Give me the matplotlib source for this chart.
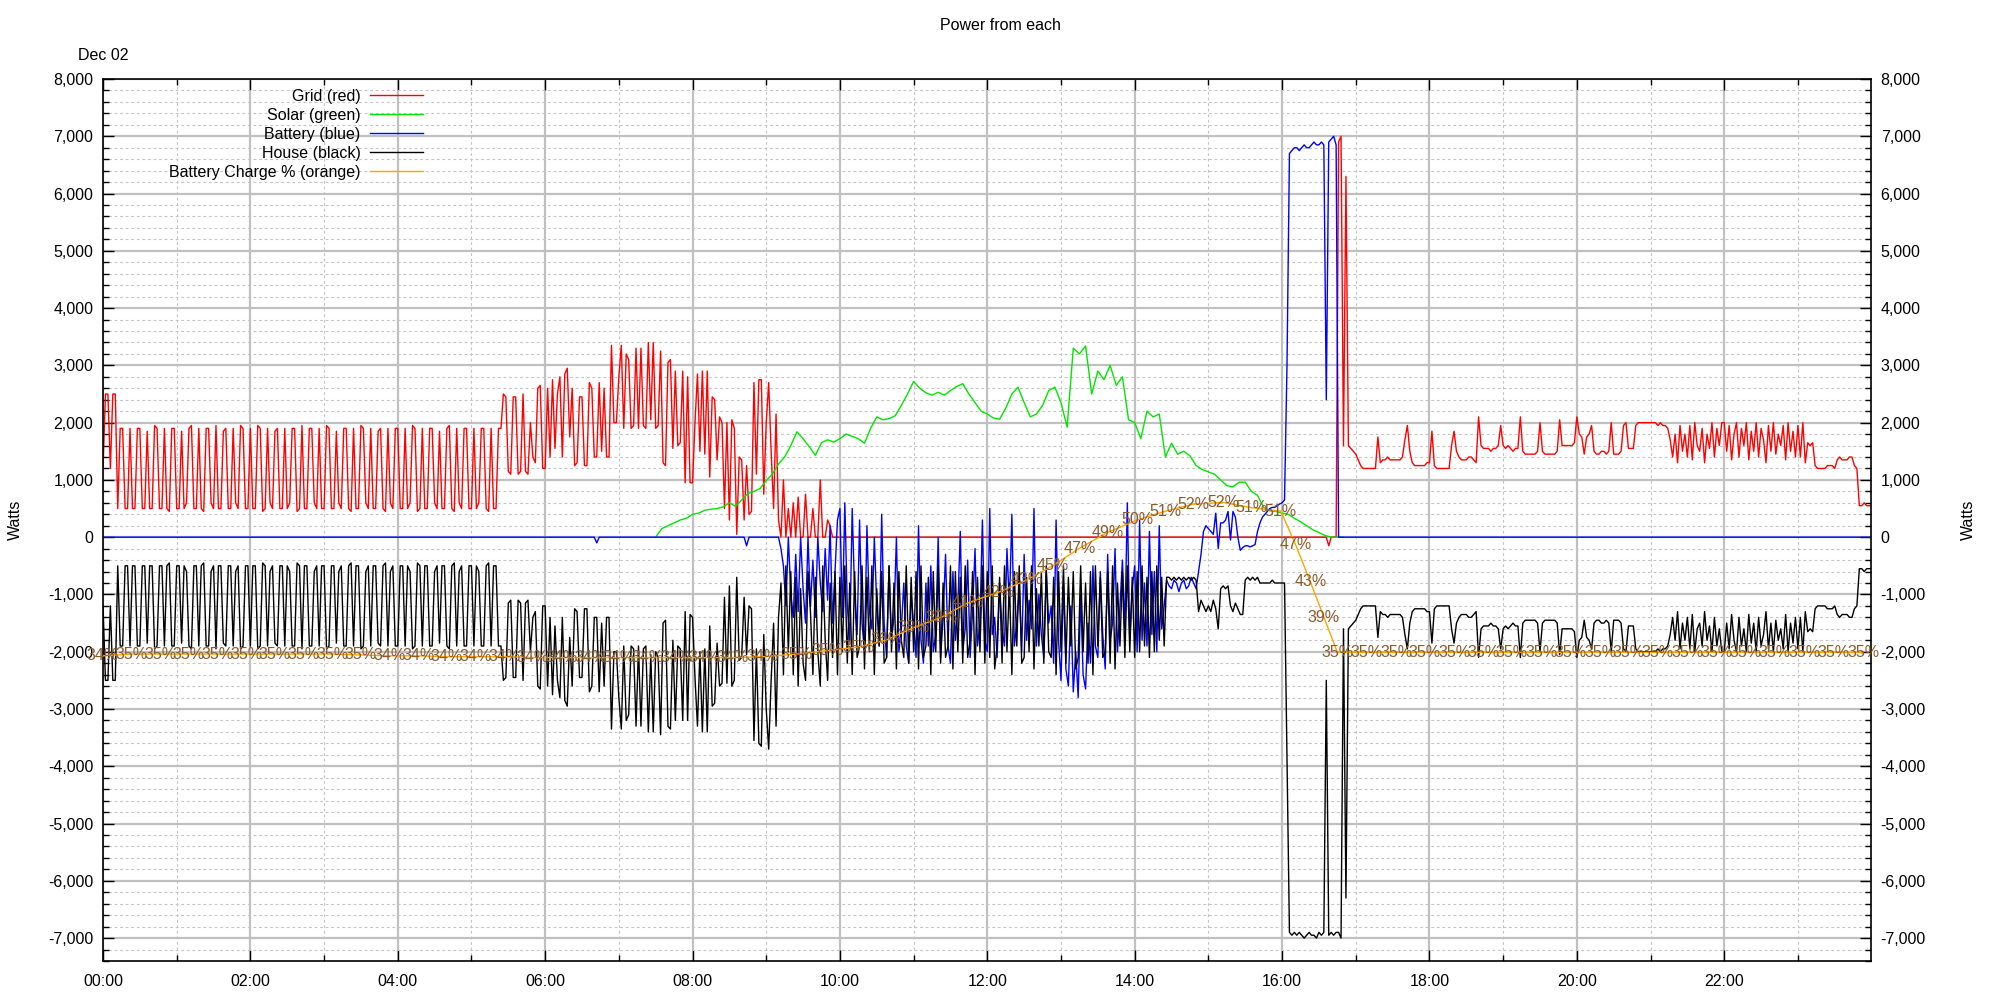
#!/usr/bin/env python3
"""
Power from each source over one day (grid, solar, battery, house)
plus the battery state of charge, drawn gnuplot-style.

Saves the chart as out.png.
"""

import matplotlib
matplotlib.use("Agg")
import matplotlib.pyplot as plt
import matplotlib.dates as mdates
import matplotlib.ticker as mticker
import pandas as pd

plt.rcParams['font.family'] = ['Liberation Sans', 'DejaVu Sans']

DAY = "2023-12-02"

# Grid / battery / house power, hundreds of watts, 2-minute samples
# from 00:00 to 24:00 (one row per hour, 30 samples each, plus 24:00)
grid = [
    12, 25, 25, 12, 25, 25, 5, 19, 19, 5, 5, 19, 5, 5, 19, 19, 5, 5, 18.5, 5, 5, 19.5, 19, 5, 5, 19, 5, 4.5, 19, 19,
    5, 5, 18.5, 5, 6, 19, 19.5, 5, 5, 19, 5, 4.5, 19, 19, 6, 5, 19.5, 5, 5, 18.5, 19, 5, 5, 19, 6, 5, 19.5, 19, 5, 5,
    19, 5, 5, 19.5, 19, 4.5, 5, 19, 6, 5, 18.5, 19, 5, 5, 19, 5, 6, 19, 19, 4.5, 5, 19.5, 5, 5, 19, 19, 6, 5, 19, 5,
    5, 19.5, 19, 5, 5, 18.5, 6, 5, 19, 19, 5, 4.5, 19, 5, 5, 19.5, 19, 6, 5, 19, 5, 5, 18.5, 19, 5, 4.5, 19, 6, 5, 19,
    19, 5, 5, 19, 5, 6, 19.5, 19, 4.5, 5, 19, 5, 5, 19, 19, 6, 5, 18.5, 5, 5, 19, 19.5, 5, 4.5, 19, 6, 5, 19, 19, 5,
    5, 19, 5, 6, 19, 19, 5, 4.5, 19, 5, 5, 19, 19, 25, 24.5, 11.5, 11, 24.5, 24.5, 11, 11.5, 25, 11.5, 11, 20, 14, 13, 26, 26.5, 12,
    12, 26, 14, 27.5, 15.5, 25, 28, 14, 28.5, 29.5, 17.5, 26, 12.5, 13, 24.5, 24.5, 12.5, 12.5, 27, 26, 14, 14, 27, 15, 26, 14, 14, 33.5, 20, 20,
    28, 33.5, 19, 32, 31, 19, 19.5, 33, 19, 33, 19.5, 19, 34, 20.5, 34, 19, 19.5, 32.5, 13, 12.5, 30.5, 31, 15.5, 29, 16, 16.5, 29, 9.5, 28, 9.5,
    9.5, 20, 28.5, 15, 29, 14.5, 29, 10.5, 24.5, 24, 13.5, 21, 20, 5, 20, 3, 20.5, 19, 0.5, 14, 13.5, 3, 12.5, 4, 4.5, 27, 11, 27.5, 27.5, 7.5,
    20, 27, 15, 5, 21.5, 3, 0, 10, 0, 5, 0, 6, 0, 7, 0, 0, 7.5, 0, 0, 5, 0, 0, 10, 0, 0, 3, 2, 0, 0, 0,
    0, 0, 0, 0, 0, 0, 0, 0, 0, 0, 0, 0, 0, 0, 0, 0, 0, 0, 0, 0, 0, 0, 0, 0, 0, 0, 0, 0, 0, 0,
    0, 0, 0, 0, 0, 0, 0, 0, 0, 0, 0, 0, 0, 0, 0, 0, 0, 0, 0, 0, 0, 0, 0, 0, 0, 0, 0, 0, 0, 0,
    0, 0, 0, 0, 0, 0, 0, 0, 0, 0, 0, 0, 0, 0, 0, 0, 0, 0, 0, 0, 0, 0, 0, 0, 0, 0, 0, 0, 0, 0,
    0, 0, 0, 0, 0, 0, 0, 0, 0, 0, 0, 0, 0, 0, 0, 0, 0, 0, 0, 0, 0, 0, 0, 0, 0, 0, 0, 0, 0, 0,
    0, 0, 0, 0, 0, 0, 0, 0, 0, 0, 0, 0, 0, 0, 0, 0, 0, 0, 0, 0, 0, 0, 0, 0, 0, 0, 0, 0, 0, 0,
    0, 0, 0, 0, 0, 0, 0, 0, 0, 0, 0, 0, 0, 0, 0, 0, 0, 0, 0, 0, 0, 0, 0, 0, 0, 0, 0, 0, 0, 0,
    0, 0, 0, 0, 0, 0, 0, 0, 0, 0, 0, 0, 0, 0, 0, 0, 0, 0, 0, -1.5, 0, 0, 0, 69, 70, 16, 63, 16, 15.5, 15,
    14.5, 13.5, 12.5, 12, 12, 12, 12, 12, 12, 17.5, 13, 13.5, 13.5, 14, 13.5, 13.5, 13.5, 13.5, 13.5, 14, 17, 19.5, 15, 13, 12.5, 12.5, 12.5, 12.5, 12.5, 13,
    13, 18.5, 12.5, 12, 12, 12, 12, 12, 12, 16, 18.5, 15, 14, 13.5, 13.5, 13.5, 14, 14, 13.5, 13, 21, 16, 15.5, 15.5, 15.5, 15, 15.5, 15.5, 16, 19.5,
    16, 15.5, 16, 15.5, 15, 15.5, 15.5, 21, 15, 14.5, 14.5, 14.5, 14.5, 14.5, 15, 20, 15, 14.5, 14.5, 14.5, 14.5, 14.5, 15, 20.5, 16, 16, 16, 16, 16, 16.5,
    21, 18, 17.5, 14.5, 17.5, 18, 19.5, 15, 14.5, 14.5, 15, 15, 14.5, 15, 20, 14.5, 14.5, 14.5, 15, 19.5, 20, 15.5, 15.5, 15.5, 19.5, 20, 20, 20, 20, 20,
    20, 20, 20, 19.5, 20, 19.5, 19.5, 19, 17, 14, 18, 13, 19.5, 15, 18, 14, 19.5, 13.5, 20, 16, 15, 19, 13, 18, 15.5, 20, 14, 19, 16, 20,
    20, 15, 19.5, 13.5, 18, 20, 14, 19, 16, 20, 13.5, 18.5, 15, 20, 14, 19, 17, 13, 19.5, 15, 20, 14.5, 18, 16, 19.5, 13.5, 20, 15, 18.5, 14,
    19.5, 14, 20, 13, 16.5, 16, 16.5, 12.5, 12, 12, 12, 12, 12.5, 12.5, 12.5, 12, 13.5, 14, 13.5, 13.5, 13.5, 14, 14, 12.5, 12, 5.5, 5.5, 6, 5.5, 5.5,
    5.5,
]

battery = [
    0, 0, 0, 0, 0, 0, 0, 0, 0, 0, 0, 0, 0, 0, 0, 0, 0, 0, 0, 0, 0, 0, 0, 0, 0, 0, 0, 0, 0, 0,
    0, 0, 0, 0, 0, 0, 0, 0, 0, 0, 0, 0, 0, 0, 0, 0, 0, 0, 0, 0, 0, 0, 0, 0, 0, 0, 0, 0, 0, 0,
    0, 0, 0, 0, 0, 0, 0, 0, 0, 0, 0, 0, 0, 0, 0, 0, 0, 0, 0, 0, 0, 0, 0, 0, 0, 0, 0, 0, 0, 0,
    0, 0, 0, 0, 0, 0, 0, 0, 0, 0, 0, 0, 0, 0, 0, 0, 0, 0, 0, 0, 0, 0, 0, 0, 0, 0, 0, 0, 0, 0,
    0, 0, 0, 0, 0, 0, 0, 0, 0, 0, 0, 0, 0, 0, 0, 0, 0, 0, 0, 0, 0, 0, 0, 0, 0, 0, 0, 0, 0, 0,
    0, 0, 0, 0, 0, 0, 0, 0, 0, 0, 0, 0, 0, 0, 0, 0, 0, 0, 0, 0, 0, 0, 0, 0, 0, 0, 0, 0, 0, 0,
    0, 0, 0, 0, 0, 0, 0, 0, 0, 0, 0, 0, 0, 0, 0, 0, 0, 0, 0, 0, 0, -1, 0, 0, 0, 0, 0, 0, 0, 0,
    0, 0, 0, 0, 0, 0, 0, 0, 0, 0, 0, 0, 0, 0, 0, 0, 0, 0, 0, 0, 0, 0, 0, 0, 0, 0, 0, 0, 0, 0,
    0, 0, 0, 0, 0, 0, 0, 0, 0, 0, 0, 0, 0, 0, 0, 0, 0, 0, 0, 0, 0, 0, -1.5, 0, 0, 0, 0, 0, 0, 0,
    0, 0, 0, 0, 0, 0, -2, -5, -12, 0, -10, -14, -3, -13, 0, -9, -15, 0, -12, -4, -14, 0, -8, -13, -2, -11, 2, -15, -6, 3,
    5, -14, 6, -12, -18, 5, -10, -17, 3, -15, -20, 2, -13, -16, 0, -12, -19, 4, -15, -21, -5, -18, -14, 0, -20, -16, -8, -19, -22, -10,
    -15, -21, 2, -18, -22, -8, -19, -5, -20, -17, 0, -21, -14, -3, -19, -22, -6, -18, -12, 1, -20, -16, -4, -21, -13, -2, -19, -15, 3, -18,
    -20, 5, -17, -14, -21, -8, -16, -19, -2, -12, 4, -19, -15, -9, -20, -3, -18, -11, -16, 5, -19, -10, -17, -21, -6, -15, -12, -22, 3, -18,
    -25, -8, -23, -26, -12, -27, -20, -28, -10, -24, -26.5, -15, -22, -5, -19, -21, -6, -17, -23, -3, -18, -15, -2, -20, -12, -4, -16, 6, -18, -9,
    -5, -20, 3, -18, -8, -19, 1, -17, -6, -20, 2, -16, -12, -7.5, -8.5, -9, -7.5, -8, -9.5, -8, -7.5, -9, -8.5, -7, -8, -9, -6, -3, 1, 2,
    1.5, 1, 0.5, 4.2, -2, 2.5, 2.5, 3, 4.5, -0.5, 4.5, 3.5, 0, -2.3, -1.8, -1.5, -1.5, -1.7, -1.5, -1.3, 1, 2.5, 3.5, 4, 4.5, 5, 5.2, 5.2, 5.5, 5.8,
    6, 6.5, 30, 67, 67.5, 68, 68, 67.5, 68, 68.5, 68, 68, 68.5, 69, 68.5, 68.5, 69, 68.5, 24, 69, 69.5, 70, 68.5, 0, 0, 0, 0, 0, 0, 0,
    0, 0, 0, 0, 0, 0, 0, 0, 0, 0, 0, 0, 0, 0, 0, 0, 0, 0, 0, 0, 0, 0, 0, 0, 0, 0, 0, 0, 0, 0,
    0, 0, 0, 0, 0, 0, 0, 0, 0, 0, 0, 0, 0, 0, 0, 0, 0, 0, 0, 0, 0, 0, 0, 0, 0, 0, 0, 0, 0, 0,
    0, 0, 0, 0, 0, 0, 0, 0, 0, 0, 0, 0, 0, 0, 0, 0, 0, 0, 0, 0, 0, 0, 0, 0, 0, 0, 0, 0, 0, 0,
    0, 0, 0, 0, 0, 0, 0, 0, 0, 0, 0, 0, 0, 0, 0, 0, 0, 0, 0, 0, 0, 0, 0, 0, 0, 0, 0, 0, 0, 0,
    0, 0, 0, 0, 0, 0, 0, 0, 0, 0, 0, 0, 0, 0, 0, 0, 0, 0, 0, 0, 0, 0, 0, 0, 0, 0, 0, 0, 0, 0,
    0, 0, 0, 0, 0, 0, 0, 0, 0, 0, 0, 0, 0, 0, 0, 0, 0, 0, 0, 0, 0, 0, 0, 0, 0, 0, 0, 0, 0, 0,
    0, 0, 0, 0, 0, 0, 0, 0, 0, 0, 0, 0, 0, 0, 0, 0, 0, 0, 0, 0, 0, 0, 0, 0, 0, 0, 0, 0, 0, 0,
    0,
]

house = [
    -12, -25, -25, -12, -25, -25, -5, -19, -19, -5, -5, -19, -5, -5, -19, -19, -5, -5, -18.5, -5, -5, -19.5, -19, -5, -5, -19, -5, -4.5, -19, -19,
    -5, -5, -18.5, -5, -6, -19, -19.5, -5, -5, -19, -5, -4.5, -19, -19, -6, -5, -19.5, -5, -5, -18.5, -19, -5, -5, -19, -6, -5, -19.5, -19, -5, -5,
    -19, -5, -5, -19.5, -19, -4.5, -5, -19, -6, -5, -18.5, -19, -5, -5, -19, -5, -6, -19, -19, -4.5, -5, -19.5, -5, -5, -19, -19, -6, -5, -19, -5,
    -5, -19.5, -19, -5, -5, -18.5, -6, -5, -19, -19, -5, -4.5, -19, -5, -5, -19.5, -19, -6, -5, -19, -5, -5, -18.5, -19, -5, -4.5, -19, -6, -5, -19,
    -19, -5, -5, -19, -5, -6, -19.5, -19, -4.5, -5, -19, -5, -5, -19, -19, -6, -5, -18.5, -5, -5, -19, -19.5, -5, -4.5, -19, -6, -5, -19, -19, -5,
    -5, -19, -5, -6, -19, -19, -5, -4.5, -19, -5, -5, -19, -19, -25, -24.5, -11.5, -11, -24.5, -24.5, -11, -11.5, -25, -11.5, -11, -20, -14, -13, -26, -26.5, -12,
    -12, -26, -14, -27.5, -15.5, -25, -28, -14, -28.5, -29.5, -17.5, -26, -12.5, -13, -24.5, -24.5, -12.5, -12.5, -27, -26, -14, -14, -27, -15, -26, -14, -14, -33.5, -20, -20,
    -28, -33.5, -19, -32, -31, -19, -19.5, -33, -19, -33, -19.5, -19, -34, -20.5, -34, -20, -21, -34.5, -15, -14.5, -33, -33.5, -18, -32, -19, -19.5, -32, -13, -32, -13.5,
    -14, -24.5, -33, -20, -34, -19.5, -34, -15.5, -29.5, -29, -18.5, -26, -25.5, -10.5, -25.5, -8.5, -26, -25, -7, -21.5, -21, -10.5, -20.5, -12, -12.5, -35.5, -19.5, -36, -36.5, -17,
    -30, -37, -25, -15, -33, -14, -8, -24, -5, -20, -6, -24, -7, -26, -9, -22, -25, -6, -13, -24, -7, -20, -26, -5, -18, -25, -8, -21, -6, -24,
    -7, -20, -5, -22, -8, -24, -6, -21, -19, -5, -23, -7, -20, -5, -24, -9, -19, -6, -22, -21, -5, -20, -8, -23, -6, -18, -21, -5, -22, -7,
    -20, -6, -23, -5, -21, -19, -7, -24, -6, -20, -5, -22, -8, -21, -19, -5, -23, -6, -20, -7, -22, -5, -21, -18, -6, -24, -7, -20, -5, -22,
    -6, -21, -5, -23, -19, -7, -22, -5, -20, -8, -24, -6, -19, -5, -22, -21, -7, -20, -5, -23, -9, -19, -6, -22, -5, -20, -21, -7, -24, -6,
    -20, -5, -22, -7, -19, -6, -23, -21, -5, -20, -8, -22, -6, -24, -5, -19, -7, -21, -20, -6, -22, -5, -23, -8, -19, -6, -21, -5, -20, -7,
    -21, -6, -20, -5, -19, -7, -21, -6, -20, -5, -18, -7, -19, -7, -7, -7.5, -7, -7.5, -7, -7.5, -7, -7.5, -7, -7.5, -7, -7.5, -13, -11, -12, -13,
    -12, -13, -11, -12.5, -16, -9, -8.5, -9, -8.5, -12, -13, -11.5, -12.5, -13.5, -13.5, -7.5, -7, -7.5, -7, -7.5, -7, -8, -8, -8, -8, -8, -7.5, -8, -8, -8,
    -8, -8, -38, -69, -69.5, -69, -69.5, -69, -69.5, -70, -69.5, -69, -69.5, -69.5, -70, -69, -69.5, -69, -25, -69.5, -69, -69.5, -69, -69, -70, -16, -63, -16, -15.5, -15,
    -14.5, -13.5, -12.5, -12, -12, -12, -12, -12, -12, -17.5, -13, -13.5, -13.5, -14, -13.5, -13.5, -13.5, -13.5, -13.5, -14, -17, -19.5, -15, -13, -12.5, -12.5, -12.5, -12.5, -12.5, -13,
    -13, -18.5, -12.5, -12, -12, -12, -12, -12, -12, -16, -18.5, -15, -14, -13.5, -13.5, -13.5, -14, -14, -13.5, -13, -21, -16, -15.5, -15.5, -15.5, -15, -15.5, -15.5, -16, -19.5,
    -16, -15.5, -16, -15.5, -15, -15.5, -15.5, -21, -15, -14.5, -14.5, -14.5, -14.5, -14.5, -15, -20, -15, -14.5, -14.5, -14.5, -14.5, -14.5, -15, -20.5, -16, -16, -16, -16, -16, -16.5,
    -21, -18, -17.5, -14.5, -17.5, -18, -19.5, -15, -14.5, -14.5, -15, -15, -14.5, -15, -20, -14.5, -14.5, -14.5, -15, -19.5, -20, -15.5, -15.5, -15.5, -19.5, -20, -20, -20, -20, -20,
    -20, -20, -20, -19.5, -20, -19.5, -19.5, -19, -17, -14, -18, -13, -19.5, -15, -18, -14, -19.5, -13.5, -20, -16, -15, -19, -13, -18, -15.5, -20, -14, -19, -16, -20,
    -20, -15, -19.5, -13.5, -18, -20, -14, -19, -16, -20, -13.5, -18.5, -15, -20, -14, -19, -17, -13, -19.5, -15, -20, -14.5, -18, -16, -19.5, -13.5, -20, -15, -18.5, -14,
    -19.5, -14, -20, -13, -16.5, -16, -16.5, -12.5, -12, -12, -12, -12, -12.5, -12.5, -12.5, -12, -13.5, -14, -13.5, -13.5, -13.5, -14, -14, -12.5, -12, -5.5, -5.5, -6, -5.5, -5.5,
    -5.5,
]

# Solar, hundreds of watts, 5-minute samples from 07:30 to 16:50
solar = [
    0, 1.5, 2, 2.5, 3, 3.3,
    4, 4.2, 4.7, 4.9, 5, 5.3, 6, 5.4, 6.5, 7.6, 8, 8.5,
    9.9, 11, 12.8, 14, 16, 18.4, 17.2, 15.8, 14.3, 16.5, 17, 16.6,
    17.2, 18, 17.6, 17.2, 16.4, 19, 21, 20.5, 20.7, 21.2, 23, 25,
    27.2, 26, 25.2, 24.8, 25.3, 24.8, 25.6, 26.3, 26.8, 25, 23.5, 22,
    21.5, 20.8, 20.6, 22.5, 25, 26.2, 23.5, 21, 21.5, 23, 25.6, 26.2,
    23.5, 19.2, 33, 32, 33.4, 25, 29, 27.5, 30, 26.5, 28, 20.5,
    20, 17.2, 22, 21, 21.5, 14, 16.4, 14.5, 15, 14.2, 12.5, 11.8,
    11.4, 11, 10, 9, 8.8, 9.6, 9.6, 8, 7.3, 5.2, 4.6, 4.5,
    4.2, 4, 3.3, 2.7, 2, 1.3, 0.8, 0.3, 0, 0, 0,
]

# Battery state of charge (percent) and the labels printed at each reading
charge_times = [
    "00:00", "00:23", "00:47", "01:10", "01:33", "01:57", "02:20", "02:43",
    "03:07", "03:30", "03:53", "04:17", "04:40", "05:03", "05:27", "05:50",
    "06:13", "06:37", "07:00", "07:23", "07:47", "08:10", "08:33", "08:57",
    "09:25", "09:50", "10:15", "10:38", "11:00", "11:23", "11:44", "12:09",
    "12:32", "12:53", "13:15", "13:38", "14:02", "14:25", "14:48", "15:12",
    "15:35", "15:59", "16:11", "16:23", "16:34", "16:45", "17:09", "17:33",
    "17:56", "18:20", "18:44", "19:07", "19:31", "19:55", "20:19", "20:42",
    "21:06", "21:30", "21:54", "22:17", "22:41", "23:05", "23:29", "23:53",
]
charge_pct = [
    34.6, 34.8, 34.8, 34.8, 34.8, 34.8, 34.8, 34.8,
    34.8, 34.7, 34.6, 34.6, 34.5, 34.5, 34.5, 34.4,
    34.4, 34.4, 34.4, 34.4, 34.4, 34.4, 34.4, 34.5,
    34.8, 35.2, 35.6, 36.4, 37.8, 39.0, 40.6, 41.8,
    43.2, 44.8, 46.8, 48.6, 50.0, 51.0, 51.8, 52.0,
    51.4, 51.0, 47.2, 43.0, 39.0, 35.0, 35.0, 35.0,
    35.0, 35.0, 35.0, 35.0, 35.0, 35.0, 35.0, 35.0,
    35.0, 35.0, 35.0, 35.0, 35.0, 35.0, 35.0, 35.0,
]
charge_labels = [
    34, 35, 35, 35, 35, 35, 35, 35,
    35, 35, 34, 34, 34, 34, 34, 34,
    34, 34, 34, 34, 34, 34, 34, 34,
    35, 35, 35, 36, 38, 39, 41, 42,
    43, 45, 47, 49, 50, 51, 52, 52,
    51, 51, 47, 43, 39, 35, 35, 35,
    35, 35, 35, 35, 35, 35, 35, 35,
    35, 35, 35, 35, 35, 35, 35, 35,
]

series_names = ["Grid (red)", "Solar (green)", "Battery (blue)", "House (black)",
                "Battery Charge % (orange)"]
series_colors = ["#ff0000", "#00e600", "#0000ff", "#000000", "#ffa500"]


def main():
    t = pd.date_range(f"{DAY} 00:00", periods=len(grid), freq="2min")
    ts = pd.date_range(f"{DAY} 07:30", periods=len(solar), freq="5min")
    tc = pd.to_datetime([f"{DAY} {hm}" for hm in charge_times])

    def watts(vals):
        return [v * 100 for v in vals]

    fig = plt.figure(figsize=(20, 10), dpi=100)
    ax = fig.add_axes([0.0515, 0.039, 0.884, 0.882])

    lines = []
    lines += ax.plot(t, watts(grid), color=series_colors[0], lw=1.0, label=series_names[0])
    lines += ax.plot(ts, watts(solar), color=series_colors[1], lw=1.0, label=series_names[1])
    lines += ax.plot(t, watts(battery), color=series_colors[2], lw=1.0, label=series_names[2])
    lines += ax.plot(t, watts(house), color=series_colors[3], lw=1.0, label=series_names[3])

    # charge % lives on a hidden 0-100 scale over the same plot area
    ax2 = ax.twinx()
    ax2.set_ylim(0, 100)
    ax2.axis('off')
    lines += ax2.plot(tc, charge_pct, color=series_colors[4], lw=1.0, label=series_names[4])
    for when, pct, lab in zip(tc, charge_pct, charge_labels):
        ax2.text(mdates.date2num(when), pct, f"{lab}%", ha='center', va='center',
                 fontsize=11.5, color='#8b5a2b')

    # axes ranges and ticks (the right edge stops just short of midnight,
    # so no 00:00 label is printed there)
    start = pd.Timestamp(f"{DAY} 00:00")
    ax.set_ylim(-7400, 8000)
    ax.set_xlim(start, start + pd.Timedelta(hours=23, minutes=59, seconds=30))
    ax2.set_xlim(ax.get_xlim())
    ax.yaxis.set_major_locator(mticker.MultipleLocator(1000))
    ax.yaxis.set_minor_locator(mticker.MultipleLocator(200))
    ax.yaxis.set_major_formatter(mticker.FuncFormatter(lambda v, p: f"{int(round(v)):,}"))
    ax.xaxis.set_major_locator(mdates.HourLocator(byhour=range(0, 24, 2)))
    ax.xaxis.set_minor_locator(mdates.HourLocator())
    ax.xaxis.set_major_formatter(mdates.DateFormatter('%H:%M'))

    ax.tick_params(which='both', direction='in', top=True, right=True,
                   labelright=True, labelsize=11.5, width=1.0)
    ax.tick_params(which='major', length=8, pad=7)
    ax.tick_params(which='minor', length=4)
    ax.tick_params(axis='x', which='major', pad=9)

    ax.grid(which='major', color='#c0c0c0', lw=1.6)
    ax.grid(which='minor', color='#c4c4c4', lw=0.8, ls=(0, (2.5, 2.5)))
    ax.set_axisbelow(True)
    for sp in ax.spines.values():
        sp.set_linewidth(1.2)

    # texts around the plot
    fig.text(0.5, 0.975, "Power from each", ha='center', va='center', fontsize=11.5)
    fig.text(0.0515, 0.944, "Dec 02", ha='center', va='center', fontsize=11.5)
    fig.text(0.0075, 0.48, "Watts", rotation=90, ha='center', va='center', fontsize=11.5)
    fig.text(0.984, 0.48, "Watts", rotation=90, ha='center', va='center', fontsize=11.5)

    ax2.legend(handles=lines, loc='upper right', bbox_to_anchor=(0.181, 0.989),
               markerfirst=False, frameon=False, fontsize=11.5, handlelength=3.3,
               handletextpad=0.6, labelspacing=0.25, borderpad=0, borderaxespad=0)

    plt.savefig("out.png", dpi=100)
    plt.close()


if __name__ == '__main__':
    main()
